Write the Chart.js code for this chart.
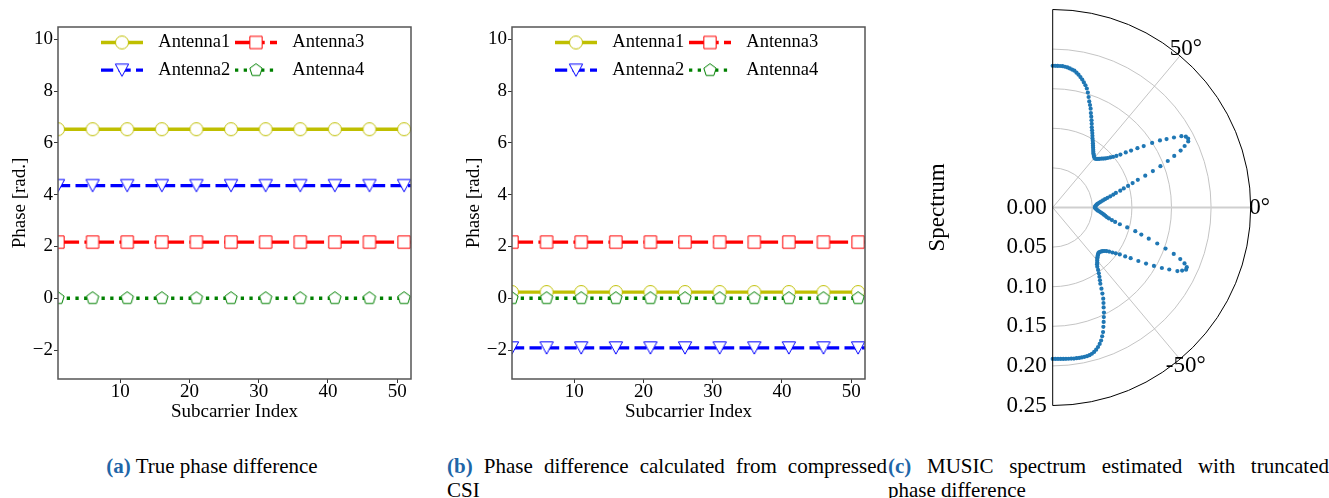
<!DOCTYPE html>
<html>
<head>
<meta charset="utf-8">
<script src="https://cdn.jsdelivr.net/npm/chart.js@4.4.0/dist/chart.umd.min.js"></script>
<style>
  body { margin: 0; background: #fff; width: 1329px; height: 498px; position: relative; overflow: hidden; font-family: 'Liberation Serif', 'Times New Roman', serif; }
  .panel { position: absolute; top: 0; height: 430px; }
  .cap { position: absolute; top: 454px; font-size: 21px; line-height: 24px; text-align: justify; text-align-last: left; color: #000; }
  .cap b { color: #1f66a8; }
</style>
</head>
<body>
<div class="panel" style="left:0;width:430px"><canvas id="chartA"></canvas></div>
<div class="panel" style="left:454px;width:430px"><canvas id="chartB"></canvas></div>
<div class="panel" style="left:900px;width:429px"><canvas id="chartC"></canvas></div>

<div class="cap" style="left:0;width:424px;text-align:center;text-align-last:center"><b>(a)</b> True phase difference</div>
<div class="cap" style="left:447px;width:440px"><b>(b)</b> Phase difference calculated from compressed CSI</div>
<div class="cap" style="left:888px;width:441px"><b>(c)</b> MUSIC spectrum estimated with truncated phase difference</div>

<script>
// subcarrier axis shared by panels (a) and (b)
const subcarrierIndex = [
  1, 2, 3, 4, 5, 6, 7, 8, 9, 10, 11, 12, 13,
  14, 15, 16, 17, 18, 19, 20, 21, 22, 23, 24, 25, 26,
  27, 28, 29, 30, 31, 32, 33, 34, 35, 36, 37, 38, 39,
  40, 41, 42, 43, 44, 45, 46, 47, 48, 49, 50, 51, 52
];
const xTicks = [10, 20, 30, 40, 50];
const phaseTicks = [-2, 0, 2, 4, 6, 8, 10];

// (a) true phase difference
const trueAntenna1 = [
  6.53, 6.53, 6.53, 6.53, 6.53, 6.53, 6.53, 6.53, 6.53, 6.53, 6.53, 6.53, 6.53,
  6.53, 6.53, 6.53, 6.53, 6.53, 6.53, 6.53, 6.53, 6.53, 6.53, 6.53, 6.53, 6.53,
  6.53, 6.53, 6.53, 6.53, 6.53, 6.53, 6.53, 6.53, 6.53, 6.53, 6.53, 6.53, 6.53,
  6.53, 6.53, 6.53, 6.53, 6.53, 6.53, 6.53, 6.53, 6.53, 6.53, 6.53, 6.53, 6.53
];
const trueAntenna2 = [
  4.35, 4.35, 4.35, 4.35, 4.35, 4.35, 4.35, 4.35, 4.35, 4.35, 4.35, 4.35, 4.35,
  4.35, 4.35, 4.35, 4.35, 4.35, 4.35, 4.35, 4.35, 4.35, 4.35, 4.35, 4.35, 4.35,
  4.35, 4.35, 4.35, 4.35, 4.35, 4.35, 4.35, 4.35, 4.35, 4.35, 4.35, 4.35, 4.35,
  4.35, 4.35, 4.35, 4.35, 4.35, 4.35, 4.35, 4.35, 4.35, 4.35, 4.35, 4.35, 4.35
];
const trueAntenna3 = [
  2.17, 2.17, 2.17, 2.17, 2.17, 2.17, 2.17, 2.17, 2.17, 2.17, 2.17, 2.17, 2.17,
  2.17, 2.17, 2.17, 2.17, 2.17, 2.17, 2.17, 2.17, 2.17, 2.17, 2.17, 2.17, 2.17,
  2.17, 2.17, 2.17, 2.17, 2.17, 2.17, 2.17, 2.17, 2.17, 2.17, 2.17, 2.17, 2.17,
  2.17, 2.17, 2.17, 2.17, 2.17, 2.17, 2.17, 2.17, 2.17, 2.17, 2.17, 2.17, 2.17
];
const trueAntenna4 = [
  0, 0, 0, 0, 0, 0, 0, 0, 0, 0, 0, 0, 0,
  0, 0, 0, 0, 0, 0, 0, 0, 0, 0, 0, 0, 0,
  0, 0, 0, 0, 0, 0, 0, 0, 0, 0, 0, 0, 0,
  0, 0, 0, 0, 0, 0, 0, 0, 0, 0, 0, 0, 0
];

// (b) phase difference from compressed CSI
const csiAntenna1 = [
  0.24, 0.24, 0.24, 0.24, 0.24, 0.24, 0.24, 0.24, 0.24, 0.24, 0.24, 0.24, 0.24,
  0.24, 0.24, 0.24, 0.24, 0.24, 0.24, 0.24, 0.24, 0.24, 0.24, 0.24, 0.24, 0.24,
  0.24, 0.24, 0.24, 0.24, 0.24, 0.24, 0.24, 0.24, 0.24, 0.24, 0.24, 0.24, 0.24,
  0.24, 0.24, 0.24, 0.24, 0.24, 0.24, 0.24, 0.24, 0.24, 0.24, 0.24, 0.24, 0.24
];
const csiAntenna2 = [
  -1.92, -1.92, -1.92, -1.92, -1.92, -1.92, -1.92, -1.92, -1.92, -1.92, -1.92, -1.92, -1.92,
  -1.92, -1.92, -1.92, -1.92, -1.92, -1.92, -1.92, -1.92, -1.92, -1.92, -1.92, -1.92, -1.92,
  -1.92, -1.92, -1.92, -1.92, -1.92, -1.92, -1.92, -1.92, -1.92, -1.92, -1.92, -1.92, -1.92,
  -1.92, -1.92, -1.92, -1.92, -1.92, -1.92, -1.92, -1.92, -1.92, -1.92, -1.92, -1.92, -1.92
];
const csiAntenna3 = [
  2.17, 2.17, 2.17, 2.17, 2.17, 2.17, 2.17, 2.17, 2.17, 2.17, 2.17, 2.17, 2.17,
  2.17, 2.17, 2.17, 2.17, 2.17, 2.17, 2.17, 2.17, 2.17, 2.17, 2.17, 2.17, 2.17,
  2.17, 2.17, 2.17, 2.17, 2.17, 2.17, 2.17, 2.17, 2.17, 2.17, 2.17, 2.17, 2.17,
  2.17, 2.17, 2.17, 2.17, 2.17, 2.17, 2.17, 2.17, 2.17, 2.17, 2.17, 2.17, 2.17
];
const csiAntenna4 = [
  0, 0, 0, 0, 0, 0, 0, 0, 0, 0, 0, 0, 0,
  0, 0, 0, 0, 0, 0, 0, 0, 0, 0, 0, 0, 0,
  0, 0, 0, 0, 0, 0, 0, 0, 0, 0, 0, 0, 0,
  0, 0, 0, 0, 0, 0, 0, 0, 0, 0, 0, 0, 0
];

// (c) MUSIC spectrum, angle in degrees and spectrum value
const spectrumAngle = [
  -90, -89, -88, -87, -86, -85, -84, -83, -82, -81, -80, -79, -78, -77, -76, -75, -74, -73, -72, -71,
  -70, -69, -68, -67, -66, -65, -64, -63, -62, -61, -60, -59, -58, -57, -56, -55, -54, -53, -52, -51,
  -50, -49, -48, -47, -46, -45, -44, -43, -42, -41, -40, -39, -38, -37, -36, -35, -34, -33, -32, -31,
  -30, -29, -28, -27, -26, -25, -24, -23, -22, -21, -20, -19, -18, -17, -16, -15, -14, -13, -12, -11,
  -10, -9, -8, -7, -6, -5, -4, -3, -2, -1, 0, 1, 2, 3, 4, 5, 6, 7, 8, 9,
  10, 11, 12, 13, 14, 15, 16, 17, 18, 19, 20, 21, 22, 23, 24, 25, 26, 27, 28, 29,
  30, 31, 32, 33, 34, 35, 36, 37, 38, 39, 40, 41, 42, 43, 44, 45, 46, 47, 48, 49,
  50, 51, 52, 53, 54, 55, 56, 57, 58, 59, 60, 61, 62, 63, 64, 65, 66, 67, 68, 69,
  70, 71, 72, 73, 74, 75, 76, 77, 78, 79, 80, 81, 82, 83, 84, 85, 86, 87, 88, 89,
  90
];
const spectrumValue = [
  0.1912, 0.1912, 0.1913, 0.1915, 0.1917, 0.1918, 0.1920, 0.1922, 0.1926, 0.1926, 0.1928, 0.1928, 0.1928, 0.1926, 0.1922, 0.1912, 0.1897, 0.1877, 0.1852, 0.1822,
  0.1787, 0.1742, 0.1697, 0.1637, 0.1582, 0.1527, 0.1476, 0.1416, 0.1366, 0.1316, 0.1255, 0.1195, 0.1135, 0.1095, 0.1055, 0.1015, 0.0975, 0.0935, 0.0910, 0.0894,
  0.0874, 0.0859, 0.0844, 0.0834, 0.0824, 0.0816, 0.0814, 0.0819, 0.0829, 0.0839, 0.0854, 0.0874, 0.0904, 0.0944, 0.0984, 0.1034, 0.1104, 0.1174, 0.1275, 0.1375,
  0.1476, 0.1576, 0.1667, 0.1767, 0.1818, 0.1858, 0.1853, 0.1808, 0.1737, 0.1637, 0.1516, 0.1396, 0.1275, 0.1170, 0.1085, 0.0974, 0.0874, 0.0809, 0.0764, 0.0723,
  0.0693, 0.0673, 0.0653, 0.0633, 0.0613, 0.0593, 0.0573, 0.0558, 0.0548, 0.0538, 0.0533, 0.0535, 0.0540, 0.0548, 0.0559, 0.0573, 0.0593, 0.0615, 0.0641, 0.0669,
  0.0703, 0.0741, 0.0783, 0.0819, 0.0879, 0.0929, 0.0990, 0.1055, 0.1130, 0.1236, 0.1346, 0.1457, 0.1567, 0.1667, 0.1768, 0.1838, 0.1904, 0.1919, 0.1904, 0.1858,
  0.1768, 0.1677, 0.1597, 0.1497, 0.1386, 0.1306, 0.1223, 0.1155, 0.1085, 0.1035, 0.0995, 0.0964, 0.0934, 0.0909, 0.0889, 0.0874, 0.0854, 0.0839, 0.0824, 0.0817,
  0.0819, 0.0829, 0.0842, 0.0854, 0.0872, 0.0892, 0.0912, 0.0934, 0.0958, 0.0982, 0.1005, 0.1035, 0.1065, 0.1095, 0.1126, 0.1166, 0.1206, 0.1246, 0.1286, 0.1336,
  0.1377, 0.1417, 0.1467, 0.1518, 0.1563, 0.1598, 0.1628, 0.1658, 0.1684, 0.1708, 0.1729, 0.1749, 0.1759, 0.1769, 0.1779, 0.1784, 0.1789, 0.1789, 0.1789, 0.1789,
  0.1789
];
const radialTicks = [-0.25, -0.2, -0.15, -0.1, -0.05, 0];
const radialGrid = [0.05, 0.1, 0.15, 0.2];
const angleTicks = [50, 0, -50];

Chart.defaults.font.family = "'Liberation Serif', 'Times New Roman', serif";
Chart.defaults.color = '#000';
Chart.defaults.animation = false;

function makeMarker(shape, color) {
  const c = document.createElement('canvas');
  c.width = 20; c.height = 20;
  const g = c.getContext('2d');
  g.fillStyle = '#fff';
  g.strokeStyle = color;
  g.lineWidth = 1;
  g.beginPath();
  if (shape === 'circle') {
    g.arc(10, 10, 6.5, 0, Math.PI * 2);
  } else if (shape === 'square') {
    g.rect(3.85, 3.85, 12.3, 12.3);
  } else if (shape === 'triangleDown') {
    g.moveTo(3.35, 3.85); g.lineTo(16.65, 3.85); g.lineTo(10, 16.15); g.closePath();
  } else {
    for (let k = 0; k < 5; k++) {
      const a = -Math.PI / 2 + k * 2 * Math.PI / 5;
      if (k === 0) g.moveTo(10 + 6.5 * Math.cos(a), 10 + 6.5 * Math.sin(a));
      else g.lineTo(10 + 6.5 * Math.cos(a), 10 + 6.5 * Math.sin(a));
    }
    g.closePath();
  }
  g.fill();
  g.stroke();
  return c;
}

function lineSet(label, values, color, dash, shape, order) {
  return {
    label: label,
    order: order,
    data: subcarrierIndex.map((x, i) => ({ x: x, y: values[i] })),
    borderColor: color,
    borderWidth: 3.3,
    borderDash: dash,
    pointStyle: makeMarker(shape, color),
    pointRadius: c => (c.dataIndex % 5 === 0 ? 7 : 0),
    pointHoverRadius: 0,
    fill: false,
    tension: 0,
    clip: 0
  };
}

// legend in two columns inside the axes, matplotlib style
const legendInside = {
  id: 'legendInside',
  afterDraw(chart) {
    const { ctx, chartArea: a } = chart;
    chart.data.datasets.forEach((ds, i) => {
      const col = Math.floor(i / 2), row = i % 2;
      const x0 = a.left + 43 + col * 134;
      const y = a.top + 15.5 + row * 27.7;
      ctx.save();
      ctx.strokeStyle = ds.borderColor;
      ctx.lineWidth = ds.borderWidth;
      ctx.setLineDash(ds.borderDash);
      ctx.beginPath();
      ctx.moveTo(x0, y);
      ctx.lineTo(x0 + 42, y);
      ctx.stroke();
      ctx.drawImage(ds.pointStyle, x0 + 21 - 10, y - 10);
      ctx.fillStyle = '#000';
      ctx.font = "18.5px 'Liberation Serif'";
      ctx.textBaseline = 'middle';
      ctx.fillText(ds.label, x0 + 57.3, y);
      ctx.restore();
    });
  }
};

const frame = {
  id: 'frame',
  afterDatasetsDraw(chart) {
    const { ctx, chartArea: a } = chart;
    ctx.save();
    ctx.strokeStyle = '#555';
    ctx.lineWidth = 1.5;
    ctx.strokeRect(a.left, a.top, a.right - a.left, a.bottom - a.top);
    ctx.restore();
  }
};

function phaseChart(id, a1, a2, a3, a4) {
  return new Chart(document.getElementById(id), {
    type: 'line',
    data: {
      datasets: [
        lineSet('Antenna1', a1, '#bfbf00', [], 'circle', 4),
        lineSet('Antenna2', a2, '#0000ff', [12.2, 5.3], 'triangleDown', 3),
        lineSet('Antenna3', a3, '#ff0000', [21.1, 5.3, 3.3, 5.3], 'square', 2),
        lineSet('Antenna4', a4, '#008000', [3.3, 5.4], 'pentagon', 1)
      ]
    },
    options: {
      responsive: true,
      maintainAspectRatio: false,
      events: [],
      layout: { padding: { top: 27, right: 19, left: 0, bottom: 0 } },
      plugins: { legend: { display: false }, tooltip: { enabled: false } },
      scales: {
        x: {
          type: 'linear',
          min: 1, max: 52,
          afterBuildTicks: s => { s.ticks = xTicks.map(v => ({ value: v })); },
          afterFit: s => { s.height = 51; s.paddingLeft = 0; s.paddingRight = 0; },
          ticks: { padding: 0, font: { size: 19, lineHeight: 1 } },
          grid: { drawOnChartArea: false, tickLength: 4, color: '#333' },
          border: { display: false },
          title: { display: true, text: 'Subcarrier Index', font: { size: 19, lineHeight: 1 }, padding: { bottom: 8.5 } }
        },
        y: {
          min: -3.12, max: 10.48,
          afterBuildTicks: s => { s.ticks = phaseTicks.map(v => ({ value: v })); },
          afterFit: s => { s.width = 58; s.paddingTop = 0; s.paddingBottom = 0; },
          ticks: {
            padding: 1,
            font: { size: 19 },
            callback: v => (v < 0 ? '\u2212' + Math.abs(v) : String(v))
          },
          grid: { drawOnChartArea: false, tickLength: 4, color: '#333' },
          border: { display: false },
          title: { display: true, text: 'Phase [rad.]', font: { size: 19, lineHeight: 1 }, padding: { top: 10.5 } }
        }
      }
    },
    plugins: [frame, legendInside]
  });
}

phaseChart('chartA', trueAntenna1, trueAntenna2, trueAntenna3, trueAntenna4);
phaseChart('chartB', csiAntenna1, csiAntenna2, csiAntenna3, csiAntenna4);

// half polar axes drawn over a cartesian scatter
const polarAxes = {
  id: 'polarAxes',
  beforeDatasetsDraw(chart) {
    const { ctx, scales: { x, y } } = chart;
    const cx = x.getPixelForValue(0), cy = y.getPixelForValue(0);
    const R = x.getPixelForValue(0.25) - cx;
    ctx.save();
    ctx.strokeStyle = '#bdbdbd';
    ctx.lineWidth = 0.9;
    radialGrid.forEach(r => {
      ctx.beginPath();
      ctx.arc(cx, cy, x.getPixelForValue(r) - cx, -Math.PI / 2, Math.PI / 2);
      ctx.stroke();
    });
    angleTicks.forEach(t => {
      const rad = t * Math.PI / 180;
      ctx.strokeStyle = t === 0 ? '#cfcfcf' : '#bdbdbd';
      ctx.lineWidth = t === 0 ? 2 : 0.9;
      ctx.beginPath();
      ctx.moveTo(cx, cy);
      ctx.lineTo(cx + R * Math.cos(rad), cy - R * Math.sin(rad));
      ctx.stroke();
    });
    ctx.restore();
  },
  afterDatasetsDraw(chart) {
    const { ctx, scales: { x, y } } = chart;
    const cx = x.getPixelForValue(0), cy = y.getPixelForValue(0);
    const R = x.getPixelForValue(0.25) - cx;
    ctx.save();
    ctx.strokeStyle = '#000';
    ctx.lineWidth = 1;
    ctx.beginPath();
    ctx.moveTo(cx, cy - R);
    ctx.lineTo(cx, cy + R);
    ctx.stroke();
    ctx.beginPath();
    ctx.arc(cx, cy, R, -Math.PI / 2, Math.PI / 2);
    ctx.stroke();
    ctx.fillStyle = '#000';
    ctx.font = "23px 'Liberation Serif'";
    ctx.textAlign = 'center';
    ctx.textBaseline = 'middle';
    angleTicks.forEach(t => {
      const rad = t * Math.PI / 180;
      ctx.fillText(t + '\u00b0', cx + (R + 9) * Math.cos(rad), cy - (R + 9) * Math.sin(rad));
    });
    ctx.restore();
  }
};

new Chart(document.getElementById('chartC'), {
  type: 'scatter',
  data: {
    datasets: [{
      label: 'Spectrum',
      data: spectrumAngle.map((t, i) => ({
        x: spectrumValue[i] * Math.cos(t * Math.PI / 180),
        y: spectrumValue[i] * Math.sin(t * Math.PI / 180)
      })),
      backgroundColor: '#1f77b4',
      borderWidth: 0,
      pointRadius: 2.1,
      pointHoverRadius: 0,
      clip: false
    }]
  },
  options: {
    responsive: true,
    maintainAspectRatio: false,
    events: [],
    layout: { padding: { top: 9.5, bottom: 24.5, left: 0, right: 78.3 } },
    plugins: { legend: { display: false }, tooltip: { enabled: false } },
    scales: {
      x: { type: 'linear', min: 0, max: 0.25, display: false },
      y: {
        min: -0.25, max: 0.25,
        afterBuildTicks: s => { s.ticks = radialTicks.map(v => ({ value: v })); },
        afterFit: s => { s.width = 152.7; s.paddingTop = 0; s.paddingBottom = 0; },
        ticks: { padding: 6, autoSkip: false, font: { size: 23 }, callback: v => Math.abs(v).toFixed(2) },
        grid: { display: false, drawTicks: false },
        border: { display: false },
        title: { display: true, text: 'Spectrum', font: { size: 23, lineHeight: 1 }, padding: { top: 26.5 } }
      }
    }
  },
  plugins: [polarAxes]
});
</script>
</body>
</html>
